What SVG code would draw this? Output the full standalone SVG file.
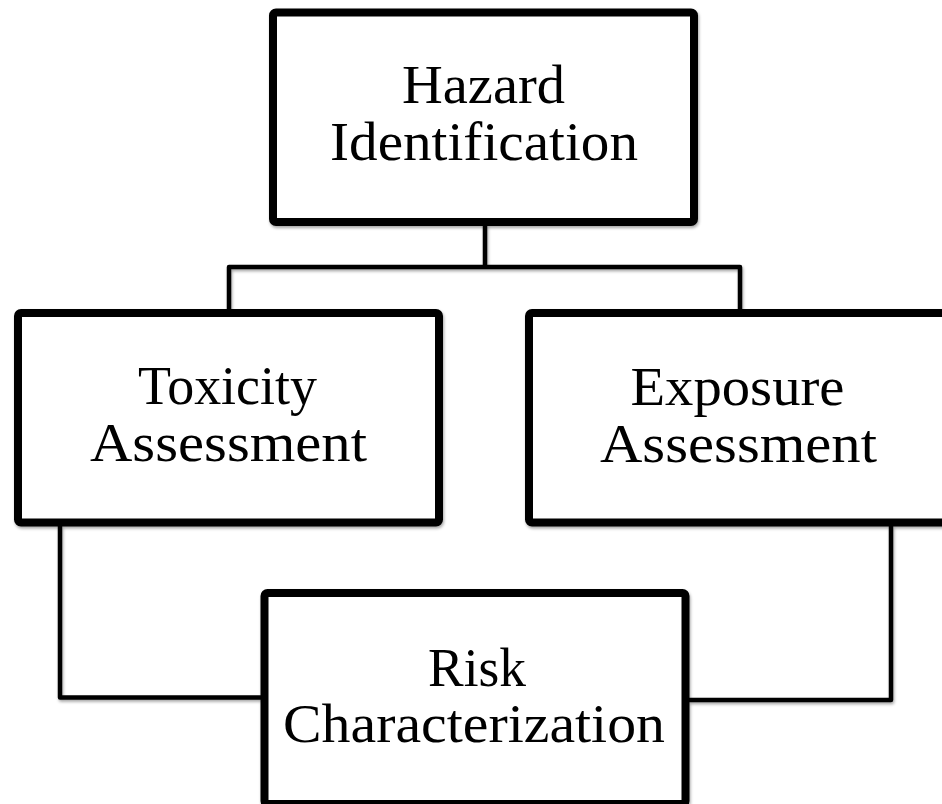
<svg xmlns="http://www.w3.org/2000/svg" width="942" height="804" viewBox="0 0 942 804">
<defs>
<filter id="sh" x="-5%" y="-5%" width="110%" height="110%">
<feDropShadow dx="1" dy="2" stdDeviation="1.5" flood-color="#000" flood-opacity="0.35"/>
</filter>
</defs>
<style>
.box{fill:#fff;stroke:#000;stroke-width:8;filter:url(#sh)}
.ln{fill:none;stroke:#000;stroke-width:4.5;stroke-linejoin:round;filter:url(#sh)}
text{font-family:"Liberation Serif","Times New Roman",serif;font-size:54px;fill:#000;text-anchor:middle}
</style>
<rect width="942" height="804" fill="#fff"/>
<g id="connectors">
<path class="ln" d="M485,225 V267 M229,310 V267 H740 V310"/>
<path class="ln" d="M60,526 V697.5 H261"/>
<path class="ln" d="M891,526 V700 H689"/>
</g>
<g id="hazard">
<rect class="box" x="273" y="12.5" width="421" height="209.5" rx="3"/>
<text x="483.5" y="103" textLength="163" lengthAdjust="spacingAndGlyphs">Hazard</text>
<text x="484" y="160" textLength="308" lengthAdjust="spacingAndGlyphs">Identification</text>
</g>
<g id="toxicity">
<rect class="box" x="18" y="313" width="421" height="209.5" rx="3"/>
<text x="227.5" y="404" textLength="179" lengthAdjust="spacingAndGlyphs">Toxicity</text>
<text x="228.5" y="461" textLength="277" lengthAdjust="spacingAndGlyphs">Assessment</text>
</g>
<g id="exposure">
<rect class="box" x="529" y="313" width="421" height="209.5" rx="3"/>
<text x="737.5" y="405" textLength="214" lengthAdjust="spacingAndGlyphs">Exposure</text>
<text x="738.5" y="461.5" textLength="277" lengthAdjust="spacingAndGlyphs">Assessment</text>
</g>
<g id="risk">
<rect class="box" x="264.5" y="593" width="421" height="211" rx="3"/>
<text x="477" y="686" textLength="98" lengthAdjust="spacingAndGlyphs">Risk</text>
<text x="474" y="742" textLength="382" lengthAdjust="spacingAndGlyphs">Characterization</text>
</g>
</svg>
